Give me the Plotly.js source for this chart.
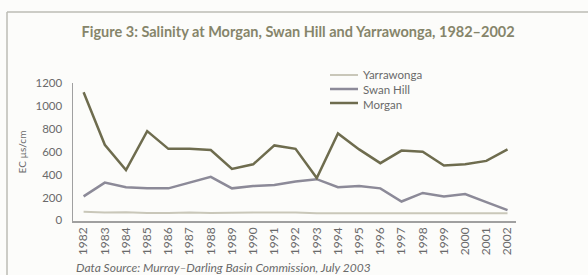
<!DOCTYPE html>
<html>
<head>
<meta charset="utf-8">
<script src="https://cdn.plot.ly/plotly-3.0.1.min.js"></script>
<style>html,body{margin:0;padding:0;background:#fcfcfa;}#chart{width:588px;height:275px;}</style>
</head>
<body>
<div id="chart"></div>
<script>
const years = [1982,1983,1984,1985,1986,1987,1988,1989,1990,1991,1992,1993,1994,1995,1996,1997,1998,1999,2000,2001,2002];
const yarrawonga = [75,70,72,65,65,70,65,70,70,70,70,62,62,62,62,62,62,62,62,62,62];
const swanHill = [210,330,290,280,280,330,380,280,300,310,340,360,290,300,280,165,240,210,230,160,90];
const morgan = [1120,660,440,780,625,625,615,450,490,655,625,370,760,620,500,610,600,480,490,520,620];
const yTicks = [0,200,400,600,800,1000,1200];
const seriesNames = ['Yarrawonga', 'Swan Hill', 'Morgan'];
const seriesColors = ['#c9c7b9', '#8c8a98', '#6e6c4e'];

const font = "Lato, 'Noto Sans', sans-serif";
const L = 73, W = 443, B = 221, H = 138;
const px = v => (v - L) / W;
const py = v => (B - v) / H;

const traces = [
  {x: years, y: yarrawonga, name: seriesNames[0], type: 'scatter', mode: 'lines', line: {color: seriesColors[0], width: 2}},
  {x: years, y: swanHill, name: seriesNames[1], type: 'scatter', mode: 'lines', line: {color: seriesColors[1], width: 2.5}},
  {x: years, y: morgan, name: seriesNames[2], type: 'scatter', mode: 'lines', line: {color: seriesColors[2], width: 2.5}}
];

const legendY = [75, 89, 103];
const shapes = [
  {type: 'line', xref: 'paper', yref: 'paper', x0: px(7), x1: px(588), y0: py(12), y1: py(12), line: {color: '#bdbdb5', width: 1.5}},
  {type: 'line', xref: 'paper', yref: 'paper', x0: px(7), x1: px(7), y0: py(12), y1: py(276), line: {color: '#bdbdb5', width: 1.5}}
];
seriesNames.forEach((n, i) => {
  shapes.push({type: 'line', xref: 'paper', yref: 'paper', x0: px(330), x1: px(358), y0: py(legendY[i]), y1: py(legendY[i]), line: {color: seriesColors[i], width: i === 0 ? 2 : 2.5}});
});
const annotations = [
  {text: '<i>Data Source: Murray–Darling Basin Commission, July 2003</i>', xref: 'paper', yref: 'paper', x: px(74), y: py(267), xanchor: 'left', yanchor: 'middle', showarrow: false, font: {size: 12, color: '#6a6a6a'}},
  {text: seriesNames.join('<br>'), align: 'left', xref: 'paper', yref: 'paper', x: px(362), y: py(legendY[1]), xanchor: 'left', yanchor: 'middle', showarrow: false, font: {size: 11.5, color: '#6a6a6a'}, borderpad: 0}
];

const layout = {
  width: 588, height: 275,
  paper_bgcolor: '#fcfcfa', plot_bgcolor: '#fcfcfa',
  margin: {l: L, r: 588 - L - W, t: 83, b: 275 - B},
  font: {family: font, color: '#6a6a6a', size: 11},
  title: {text: 'Figure 3: Salinity at Morgan, Swan Hill and Yarrawonga, 1982–2002', font: {family: font, size: 14.5, color: '#86856a', weight: 'bold'}, x: 0.507, xanchor: 'center', y: 0.885, yanchor: 'middle'},
  xaxis: {range: [1981.5, 2002.4], tickvals: years, ticktext: years.map(String), tickangle: -90, showgrid: false, zeroline: false, showline: true, linecolor: '#a0a0a0', linewidth: 1.5, ticks: '', tickfont: {size: 12, color: '#6a6a6a'}, fixedrange: true},
  yaxis: {range: [-5, 1200], tickvals: yTicks, showgrid: false, zeroline: false, showline: true, linecolor: '#a0a0a0', linewidth: 1.5, ticks: '', ticklabelstandoff: 7, tickfont: {size: 11.5, color: '#6a6a6a'}, title: {text: 'EC µs/cm', font: {size: 10, color: '#6a6a6a'}, standoff: 7}, fixedrange: true},
  showlegend: false,
  annotations: annotations,
  shapes: shapes
};
Plotly.newPlot('chart', traces, layout, {displayModeBar: false, staticPlot: true});
</script>
</body>
</html>
